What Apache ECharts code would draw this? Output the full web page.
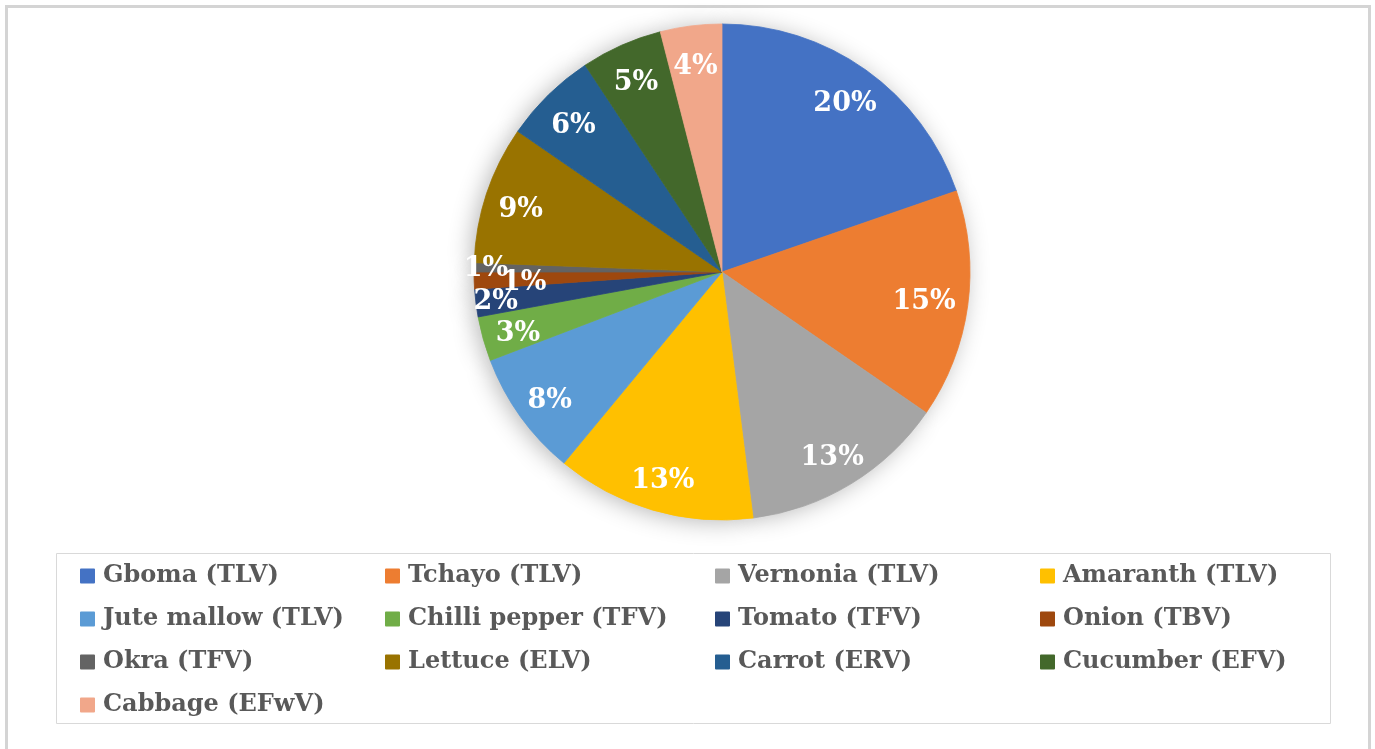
<!DOCTYPE html>
<html>
<head>
<meta charset="utf-8">
<script src="https://cdn.jsdelivr.net/npm/echarts@6/dist/echarts.min.js"></script>
<style>
  html, body { margin: 0; padding: 0; background: #fff; }
  #chart { width: 1375px; height: 749px; }
</style>
</head>
<body>
<div id="chart"></div>
<script>
// vegetable shares (%)
var categories = [
  "Gboma (TLV)", "Tchayo (TLV)", "Vernonia (TLV)", "Amaranth (TLV)",
  "Jute mallow (TLV)", "Chilli pepper (TFV)", "Tomato (TFV)", "Onion (TBV)",
  "Okra (TFV)", "Lettuce (ELV)", "Carrot (ERV)", "Cucumber (EFV)", "Cabbage (EFwV)"
];
var shares = [19.7, 14.9, 13.4, 13.0, 8.2, 2.9, 1.8, 1.1, 0.6, 9.0, 6.1, 5.3, 4.0];
var colors = [
  "#4472c4", "#ed7d31", "#a5a5a5", "#ffc000", "#5b9bd5", "#70ad47",
  "#264478", "#9e480e", "#636363", "#997300", "#255e91", "#43682b", "#f1a78a"
];

// legend columns as laid out in the original
var legendCols = [
  [0, 4, 8, 12],
  [1, 5, 9],
  [2, 6, 10],
  [3, 7, 11]
];
var legendLeft = [75, 380, 710, 1035];

var pieData = categories.map(function (name, i) {
  return {
    name: name,
    value: shares[i],
    itemStyle: { color: colors[i], borderColor: colors[i], borderWidth: 0.8 }
  };
});

var legends = legendCols.map(function (col, c) {
  return {
    orient: "vertical",
    left: legendLeft[c],
    top: 559,
    itemWidth: 13,
    itemHeight: 13,
    itemGap: 19,
    icon: "rect",
    selectedMode: false,
    data: col.map(function (i) { return categories[i]; }),
    textStyle: {
      fontFamily: "DejaVu Serif",
      fontWeight: "bold",
      fontSize: 24,
      lineHeight: 24,
      color: "#595959",
      padding: [0, 0, 0, 4]
    }
  };
});

// the tiny slices get their labels nudged apart, as in the original
function nudgeLabel(p) {
  var name = categories[p.dataIndex];
  if (name === "Okra (TFV)") return { dx: -24, dy: 1 };
  if (name === "Onion (TBV)") return { dx: 14, dy: 4 };
  if (name === "Tomato (TFV)") return { dx: -16, dy: 3 };
  if (name === "Tchayo (TLV)") return { dx: -8, dy: 1 };
  return { dy: 5 };
}

var chart = echarts.init(document.getElementById("chart"), null, { renderer: "canvas" });
chart.setOption({
  animation: false,
  legend: legends,
  graphic: [
    {
      type: "rect",
      z: -10,
      shape: { x: 6.5, y: 6.5, width: 1363, height: 780 },
      style: { fill: null, stroke: "#d4d4d4", lineWidth: 3 }
    },
    {
      type: "rect",
      z: -10,
      shape: { x: 56.5, y: 553.5, width: 1274, height: 170 },
      style: { fill: null, stroke: "#d9d9d9", lineWidth: 1 }
    }
  ],
  series: [
    {
      // main pie
      type: "pie",
      z: 3,
      center: [722, 272],
      radius: 248,
      startAngle: 90,
      clockwise: true,
      label: { show: false },
      labelLine: { show: false },
      emphasis: { disabled: true },
      data: pieData
    },
    {
      // soft shadow underneath
      type: "pie",
      z: 1,
      silent: true,
      center: [722, 272],
      radius: 247,
      startAngle: 90,
      label: { show: false },
      labelLine: { show: false },
      itemStyle: {
        color: "#ffffff",
        shadowBlur: 24,
        shadowColor: "rgba(0,0,0,0.3)",
        shadowOffsetX: -4,
        shadowOffsetY: 2
      },
      data: categories.map(function (name, i) { return { name: name, value: shares[i] }; })
    },
    {
      // invisible ring that carries the percentage labels near the rim
      type: "pie",
      z: 4,
      silent: true,
      center: [722, 272],
      radius: [170, 248],
      startAngle: 90,
      itemStyle: { color: "rgba(0,0,0,0)" },
      labelLine: { show: false },
      labelLayout: nudgeLabel,
      label: {
        show: true,
        position: "inside",
        color: "#ffffff",
        fontFamily: "DejaVu Serif",
        fontWeight: "bold",
        fontSize: 27,
        formatter: function (p) { return Math.round(p.percent) + "%"; }
      },
      data: categories.map(function (name, i) { return { name: name, value: shares[i] }; })
    }
  ]
});
</script>
</body>
</html>
